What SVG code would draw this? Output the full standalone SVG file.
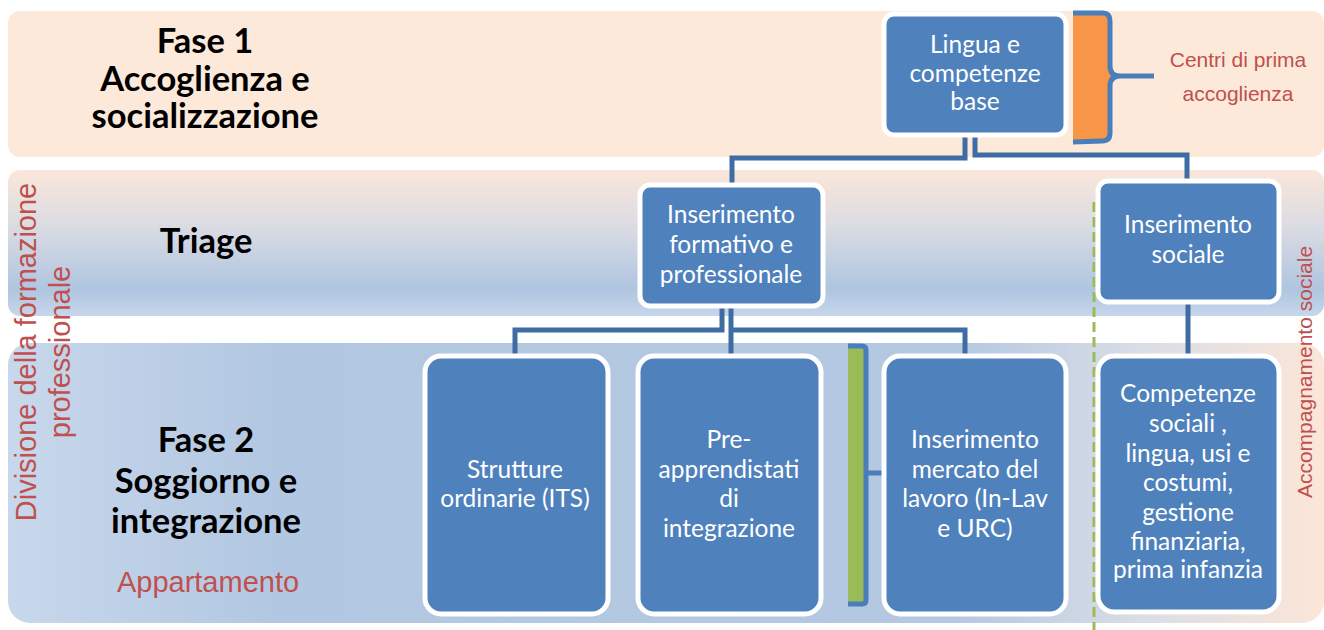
<svg xmlns="http://www.w3.org/2000/svg" width="1324" height="630" viewBox="0 0 1324 630">
<defs>
<linearGradient id="g2" x1="0" y1="0" x2="0" y2="1">
<stop offset="0" stop-color="#FBE7DA"/>
<stop offset="0.4" stop-color="#D9DBE3"/>
<stop offset="0.82" stop-color="#AFC5E0"/>
<stop offset="1" stop-color="#C7D7EB"/>
</linearGradient>
<linearGradient id="g3" x1="0" y1="0" x2="1" y2="0">
<stop offset="0" stop-color="#C8D8EC"/>
<stop offset="0.2" stop-color="#B2C7E1"/>
<stop offset="0.72" stop-color="#B4C8E1"/>
<stop offset="0.86" stop-color="#D9DDE6"/>
<stop offset="1" stop-color="#FCE6D8"/>
</linearGradient>
<style>
.box{fill:#4F81BD;stroke:#FFFFFF;stroke-width:5}
.bt{font-family:Lato,"Liberation Sans",sans-serif;font-size:24.5px;fill:#FFFFFF;text-anchor:middle}
.hd{font-family:Lato,"Liberation Sans",sans-serif;font-size:34.5px;font-weight:bold;fill:#000000;text-anchor:middle}
.red{font-family:"Liberation Sans",Arial,sans-serif;fill:#C0504D;text-anchor:middle}
.con{fill:none;stroke:#3F6DA3;stroke-width:5}
.brace{fill:none;stroke:#4A7EBB;stroke-width:5;stroke-linejoin:round}
</style>
</defs>

<g id="bands">
<rect x="8" y="11" width="1316" height="146" rx="12" fill="#FDE9DA"/>
<rect x="8" y="170" width="1316" height="146" rx="12" fill="url(#g2)"/>
<rect x="8" y="343" width="1316" height="280" rx="22" fill="url(#g3)"/>
</g>

<g id="labels">
<text class="hd"><tspan x="205" y="53">Fase 1</tspan><tspan x="205" y="91">Accoglienza e</tspan><tspan x="205" y="128">socializzazione</tspan></text>
<text class="hd" x="206" y="253">Triage</text>
<text class="hd"><tspan x="206" y="452">Fase 2</tspan><tspan x="206" y="493">Soggiorno e</tspan><tspan x="206" y="533">integrazione</tspan></text>
<text class="red" x="208" y="592" font-size="29">Appartamento</text>
<text class="red" font-size="29" transform="translate(36,352) rotate(-90)"><tspan x="0" y="0">Divisione della formazione</tspan><tspan x="0" y="34">professionale</tspan></text>
<text class="red" font-size="21" transform="translate(1312,372) rotate(-90)">Accompagnamento sociale</text>
<text class="red" font-size="21"><tspan x="1238" y="67">Centri di prima</tspan><tspan x="1238" y="101">accoglienza</tspan></text>
</g>

<g id="connectors">
<polyline class="con" points="965,137 965,158 732,158 732,184"/>
<polyline class="con" points="975,137 975,155 1187,155 1187,180"/>
<polyline class="con" points="722,308 722,330 515,330 515,355"/>
<polyline class="con" points="731,308 731,355"/>
<polyline class="con" points="731,330 965,330 965,355"/>
<line class="con" x1="1188" y1="304" x2="1188" y2="355"/>
<line x1="1094" y1="202" x2="1094" y2="630" stroke="#9BBB59" stroke-width="3" stroke-dasharray="10,5"/>
</g>

<g id="brace-orange">
<path d="M1073,13 L1103,13 Q1110,13 1110,21 L1110,68 Q1110,76 1120,76 L1110,84 L1110,133 Q1110,141 1102,141 L1073,141 Z" fill="#F79646"/>
<path class="brace" d="M1073,13 L1103,13 Q1110,13 1110,21 L1110,66 Q1110,76 1120,76 L1154,76 M1120,76 Q1110,76 1110,86 L1110,133 Q1110,141 1102,141 L1073,142"/>
</g>

<g id="brace-green">
<rect x="848" y="347" width="18" height="257" fill="#9BBB59"/>
<path class="brace" d="M848,346 L862,346 Q866,346 866,350 L866,600 Q866,604 862,604 L848,604 M866,473 L885,473"/>
</g>

<g id="n-lingua">
<rect class="box" x="884" y="14" width="182" height="121" rx="10"/>
<text class="bt"><tspan x="975" y="53">Lingua e</tspan><tspan x="975" y="82">competenze</tspan><tspan x="975" y="110">base</tspan></text>
</g>

<g id="n-formativo">
<rect class="box" x="640" y="185" width="183" height="121" rx="10"/>
<text class="bt"><tspan x="731" y="223">Inserimento</tspan><tspan x="731" y="253">formativo e</tspan><tspan x="731" y="283">professionale</tspan></text>
</g>

<g id="n-sociale">
<rect class="box" x="1098" y="181" width="181" height="121" rx="10"/>
<text class="bt"><tspan x="1188" y="233">Inserimento</tspan><tspan x="1188" y="263">sociale</tspan></text>
</g>

<g id="n-strutture">
<rect class="box" x="425" y="356" width="183" height="258" rx="16"/>
<text class="bt"><tspan x="515" y="478">Strutture</tspan><tspan x="515" y="507">ordinarie (ITS)</tspan></text>
</g>

<g id="n-preapp">
<rect class="box" x="638" y="356" width="183" height="258" rx="16"/>
<text class="bt"><tspan x="729" y="448">Pre-</tspan><tspan x="729" y="478">apprendistati</tspan><tspan x="729" y="507">di</tspan><tspan x="729" y="537">integrazione</tspan></text>
</g>

<g id="n-mercato">
<rect class="box" x="884" y="356" width="182" height="258" rx="16"/>
<text class="bt"><tspan x="975" y="448">Inserimento</tspan><tspan x="975" y="478">mercato del</tspan><tspan x="975" y="507">lavoro (In-Lav</tspan><tspan x="975" y="537">e URC)</tspan></text>
</g>

<g id="n-competenze">
<rect class="box" x="1098" y="356" width="181" height="256" rx="16"/>
<text class="bt"><tspan x="1188" y="402">Competenze</tspan><tspan x="1188" y="432">sociali ,</tspan><tspan x="1188" y="462">lingua, usi e</tspan><tspan x="1188" y="491">costumi,</tspan><tspan x="1188" y="521">gestione</tspan><tspan x="1188" y="550">finanziaria,</tspan><tspan x="1188" y="578">prima infanzia</tspan></text>
</g>
</svg>
